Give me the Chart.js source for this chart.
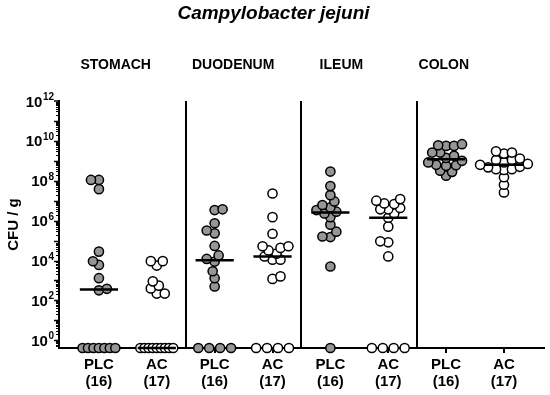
<!DOCTYPE html>
<html lang="en">
<head>
<meta charset="UTF-8" />
<title>Campylobacter jejuni</title>
<script src="https://cdn.jsdelivr.net/npm/chart.js"></script>
<style>
  html, body { margin: 0; padding: 0; background: #fff; }
  .wrap { width: 550px; height: 395px; position: relative; }
</style>
</head>
<body>
<div class="wrap"><canvas id="cfuChart"></canvas></div>
<script>
  // CFU per gram, one list per organ / treatment group (0 = below detection)
  const organs = ['STOMACH', 'DUODENUM', 'ILEUM', 'COLON'];
  const treatments = ['PLC', 'AC'];

  const stomachPLC = [0, 0, 0, 0, 0, 0, 0, 3.2e2, 3.8e2, 1.3e3, 6e3, 9.2e3, 2.8e4, 3.8e7, 1.1e8, 1.1e8];
  const stomachAC = [0, 0, 0, 0, 0, 0, 0, 0, 0, 2.2e2, 2.2e2, 4e2, 5.5e2, 9e2, 5.6e3, 9.3e3, 9.3e3];
  const duodenumPLC = [0, 0, 0, 0, 5e2, 1.3e3, 2.9e3, 8.9e3, 1.2e4, 1.8e4, 5.4e4, 2.3e5, 3.2e5, 7.4e5, 3.4e6, 3.7e6];
  const duodenumAC = [0, 0, 0, 0, 1.2e3, 1.6e3, 1.1e4, 1.1e4, 1.6e4, 2.2e4, 3.2e4, 4.3e4, 5.2e4, 5.2e4, 2.2e5, 1.5e6, 2.3e7];
  const ileumPLC = [0, 5e3, 1.5e5, 1.6e5, 2.8e5, 6.3e5, 1.5e6, 2.3e6, 2.8e6, 3.4e6, 4.6e6, 6.1e6, 9.2e6, 1.9e7, 5.4e7, 2.9e8];
  const ileumAC = [0, 0, 0, 0, 1.6e4, 8.2e4, 9.2e4, 5e5, 1.4e6, 2.3e6, 3.7e6, 3.7e6, 4.3e6, 6.8e6, 7.3e6, 1e7, 1.2e7];
  const colonPLC = [1.8e8, 2.8e8, 3.2e8, 5.6e8, 6e8, 6.3e8, 8.3e8, 1e9, 1.4e9, 1.8e9, 2.6e9, 2.6e9, 5.6e9, 5.6e9, 6e9, 6.8e9];
  const colonAC = [2.6e7, 6.3e7, 1.5e8, 3.5e8, 3.8e8, 3.8e8, 4.7e8, 5e8, 6.3e8, 7e8, 8.3e8, 1.1e9, 1.1e9, 1.3e9, 2.3e9, 2.6e9, 3e9];

  const groupValues = [stomachPLC, stomachAC, duodenumPLC, duodenumAC, ileumPLC, ileumAC, colonPLC, colonAC];
  const yLabelExponents = [0, 2, 4, 6, 8, 10, 12];

  const X_MIN = -0.69, X_MAX = 7.69;
  const Y_MIN = 0.41, Y_MAX = 1e12;

  // rough plot size in px, only used to spread the dots so they don't pile up
  const PX_PER_CAT = 488 / (X_MAX - X_MIN);
  const PX_PER_DECADE = 247 / (Math.log10(Y_MAX) - Math.log10(Y_MIN));
  const GAP = 7;
  const STEP = 2;
  const ZERO_ROW = 33;

  function median(values) {
    const s = [...values].sort((a, b) => a - b);
    const m = Math.floor(s.length / 2);
    return s.length % 2 ? s[m] : (s[m - 1] + s[m]) / 2;
  }

  // simple beeswarm: zeros sit in one row on the axis, the rest get nudged sideways
  function swarm(values) {
    const zeros = values.filter(v => v === 0);
    const rest = values.filter(v => v > 0).sort((a, b) => a - b);
    const out = [];
    const step = zeros.length > 1 ? Math.min(11, ZERO_ROW / (zeros.length - 1)) : 0;
    zeros.forEach((v, k) => out.push({ dx: (k - (zeros.length - 1) / 2) * step, v }));
    const placed = [];
    rest.forEach((v, j) => {
      const py = Math.log10(v) * PX_PER_DECADE;
      const side = j % 2 ? 1 : -1;
      for (let k = 0; k < 60; k++) {
        const dx = (k % 2 ? 1 : -1) * side * Math.ceil(k / 2) * STEP;
        if (placed.every(p => (p.dx - dx) ** 2 + (p.py - py) ** 2 >= GAP * GAP)) {
          placed.push({ dx, py });
          out.push({ dx, v });
          break;
        }
      }
    });
    return out.map(p => ({ x: p.dx / PX_PER_CAT, y: p.v }));
  }

  // zero counts are drawn on the floor of the axis
  const floor = v => (v > 0 ? v : Y_MIN);

  const datasets = [];
  groupValues.forEach((vals, i) => {
    datasets.push({
      label: organs[Math.floor(i / 2)] + ' ' + treatments[i % 2],
      data: swarm(vals).map(p => ({ x: i + p.x, y: floor(p.y) })),
      pointRadius: 4.6,
      pointBorderWidth: 1.5,
      pointBorderColor: '#000',
      pointBackgroundColor: i % 2 ? '#ffffff' : '#969696',
      clip: false,
      order: 2
    });
    const med = floor(median(vals));
    datasets.push({
      label: 'median',
      data: [{ x: i - 0.33, y: med }, { x: i + 0.33, y: med }],
      showLine: true,
      borderColor: '#000',
      borderWidth: 2.5,
      pointRadius: 0,
      clip: false,
      order: 1
    });
  });

  const FONT = "'Liberation Sans', Arial, sans-serif";
  Chart.defaults.font.family = FONT;
  Chart.defaults.color = '#000';

  const decorations = {
    id: 'decorations',
    beforeDatasetsDraw(chart) {
      const { ctx, chartArea, scales: { x } } = chart;
      ctx.save();
      ctx.strokeStyle = '#000';
      ctx.lineWidth = 2;
      for (let i = 1; i < organs.length; i++) {
        const px = Math.round(x.getPixelForValue(i * 2 - 0.5));
        ctx.beginPath();
        ctx.moveTo(px, chartArea.top);
        ctx.lineTo(px, chartArea.bottom);
        ctx.stroke();
      }
      ctx.restore();
    },
    afterDraw(chart) {
      const { ctx, chartArea, scales: { x, y } } = chart;
      const left = chartArea.left;
      ctx.save();
      ctx.strokeStyle = '#000';

      // log ticks: long at each decade, short in between
      for (let e = -1; e < 12; e++) {
        for (let s = 1; s <= 9; s++) {
          const v = s * Math.pow(10, e);
          if (v < Y_MIN) continue;
          const py = Math.round(y.getPixelForValue(v)) + 0.5;
          ctx.lineWidth = s === 1 ? 1.5 : 1;
          ctx.beginPath();
          ctx.moveTo(left - (s === 1 ? 5 : 3), py);
          ctx.lineTo(left, py);
          ctx.stroke();
        }
      }
      ctx.lineWidth = 1.5;
      ctx.beginPath();
      ctx.moveTo(left - 5, y.getPixelForValue(Y_MAX));
      ctx.lineTo(left, y.getPixelForValue(Y_MAX));
      ctx.stroke();

      // 10^n labels with a raised exponent
      ctx.fillStyle = '#000';
      ctx.textBaseline = 'alphabetic';
      yLabelExponents.forEach(exp => {
        const py = y.getPixelForValue(Math.pow(10, exp));
        ctx.font = 'bold 10px ' + FONT;
        const expW = ctx.measureText(String(exp)).width;
        ctx.textAlign = 'left';
        ctx.fillText(String(exp), 54 - expW, py - 1);
        ctx.font = 'bold 15px ' + FONT;
        ctx.textAlign = 'right';
        ctx.fillText('10', 54 - expW - 0.5, py + 5.5);
      });

      // organ headings
      const titleX = [0.29, 2.32, 4.19, 5.96];
      ctx.font = 'bold 14px ' + FONT;
      ctx.textAlign = 'center';
      ctx.textBaseline = 'middle';
      organs.forEach((name, i) => {
        ctx.fillText(name, x.getPixelForValue(titleX[i]), 65);
      });
      ctx.restore();
    }
  };

  new Chart(document.getElementById('cfuChart'), {
    type: 'scatter',
    data: { datasets },
    plugins: [decorations],
    options: {
      responsive: true,
      maintainAspectRatio: false,
      animation: false,
      events: [],
      layout: { padding: { left: 0, right: 3, top: 0, bottom: 0 } },
      plugins: {
        legend: { display: false },
        tooltip: { enabled: false },
        title: {
          display: true,
          text: 'Campylobacter jejuni',
          color: '#000',
          font: { size: 19, weight: 'bold', style: 'italic' },
          padding: { top: 2, bottom: 76.2 }
        }
      },
      scales: {
        x: {
          type: 'linear',
          min: X_MIN,
          max: X_MAX,
          afterBuildTicks: s => { s.ticks = groupValues.map((_, i) => ({ value: i })); },
          afterFit: s => { s.height = 47; },
          ticks: {
            autoSkip: false,
            maxRotation: 0,
            padding: 3,
            color: '#000',
            font: { size: 15, weight: 'bold', lineHeight: 1.13 },
            callback: value => [treatments[value % 2], '(' + groupValues[value].length + ')']
          },
          grid: { display: true, drawOnChartArea: false, tickLength: 5, color: '#000', lineWidth: 2 },
          border: { display: true, color: '#000', width: 2 }
        },
        y: {
          type: 'logarithmic',
          min: Y_MIN,
          max: Y_MAX,
          afterFit: s => { s.width = 59; },
          ticks: { display: false },
          grid: { display: false },
          border: { display: true, color: '#000', width: 2 },
          title: {
            display: true,
            text: 'CFU / g',
            color: '#000',
            font: { size: 15, weight: 'bold' },
            padding: { top: 5, bottom: 0 }
          }
        }
      }
    }
  });
</script>
</body>
</html>
